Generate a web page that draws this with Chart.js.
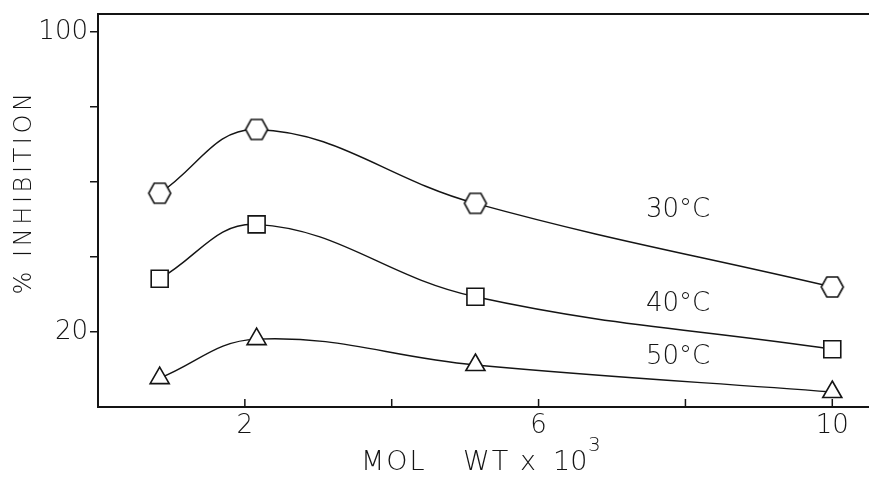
<!DOCTYPE html>
<html>
<head>
<meta charset="utf-8">
<script src="https://cdn.jsdelivr.net/npm/chart.js@4.4.1/dist/chart.umd.min.js"></script>
<style>
  html, body { margin: 0; padding: 0; background: #fff; }
  #wrap { width: 869px; height: 486px; }
</style>
</head>
<body>
<div id="wrap"><canvas id="chart"></canvas></div>
<script>
// values (x = mol wt / 1000, y = % inhibition)
const molWt = [0.84, 2.16, 5.14, 10];
const inhib30 = [57, 74, 54.3, 32];
const inhib40 = [34.2, 48.7, 29.4, 15.4];
const inhib50 = [7.7, 18.1, 11.2, 4.0];

const seriesNames = ['30°C', '40°C', '50°C'];
const nameX = [7.9, 7.9, 7.9];
const nameY = [52.5, 27.5, 13.3];

const xTicks = [2, 4, 6, 8, 10];
const xTickLabels = ['2', '', '6', '', '10'];
const yTicks = [20, 40, 60, 80, 100];
const yTickLabels = ['20', '', '', '', '100'];

const ink = '#141414';
const fontFamily = '"DejaVu Sans", sans-serif';
const fontWeight = '200';

function hexagon() {
  const c = document.createElement('canvas');
  c.width = 26; c.height = 26;
  const g = c.getContext('2d');
  g.beginPath();
  for (let i = 0; i < 6; i++) {
    const a = Math.PI / 3 * i;
    const px = 13 + 11 * Math.cos(a), py = 13 + 11.5 * Math.sin(a);
    if (i) g.lineTo(px, py); else g.moveTo(px, py);
  }
  g.closePath();
  g.fillStyle = '#fff';
  g.fill();
  g.lineWidth = 1.6;
  g.strokeStyle = ink;
  g.stroke();
  return c;
}

function toPoints(ys) {
  return molWt.map((x, i) => ({ x, y: ys[i] }));
}

function lineSet(ys, style, radius) {
  return {
    data: toPoints(ys),
    borderColor: ink,
    borderWidth: 1.4,
    tension: 0.4,
    pointStyle: style,
    pointRadius: radius,
    pointHoverRadius: radius,
    pointBackgroundColor: '#fff',
    pointBorderColor: ink,
    pointBorderWidth: 1.6
  };
}

const decorations = {
  id: 'decorations',
  afterDraw(chart) {
    const { ctx, chartArea, scales } = chart;
    const x = scales.x, y = scales.y;
    ctx.save();
    ctx.strokeStyle = ink;
    ctx.lineWidth = 2;
    // top frame line
    ctx.beginPath();
    ctx.moveTo(chartArea.left, chartArea.top);
    ctx.lineTo(chartArea.right, chartArea.top);
    ctx.stroke();
    // inward ticks on the x axis
    ctx.lineWidth = 1.5;
    xTicks.forEach(v => {
      const px = x.getPixelForValue(v);
      ctx.beginPath();
      ctx.moveTo(px, chartArea.bottom);
      ctx.lineTo(px, chartArea.bottom - 8);
      ctx.stroke();
    });

    ctx.fillStyle = ink;
    ctx.font = fontWeight + ' 26px ' + fontFamily;
    ctx.textAlign = 'center';
    ctx.textBaseline = 'middle';
    ctx.letterSpacing = '0px';
    seriesNames.forEach((name, i) => {
      ctx.fillText(name, x.getPixelForValue(nameX[i]), y.getPixelForValue(nameY[i]));
    });

    // y title
    ctx.save();
    ctx.translate(25, 192);
    ctx.rotate(-Math.PI / 2);
    ctx.font = fontWeight + ' 24px ' + fontFamily;
    ctx.letterSpacing = '3.6px';
    ctx.fillText('% INHIBITION', 0, 0);
    ctx.restore();

    // x title, word by word, with superscript exponent
    ctx.font = fontWeight + ' 27px ' + fontFamily;
    ctx.letterSpacing = '2px';
    ctx.textAlign = 'left';
    ctx.fillText('MOL', 361, 463);
    ctx.fillText('WT', 463, 463);
    ctx.letterSpacing = '0px';
    ctx.fillText('x', 520, 463);
    ctx.fillText('10', 553, 463);
    ctx.font = fontWeight + ' 20px ' + fontFamily;
    ctx.fillText('3', 588, 446);
    ctx.restore();
  }
};

new Chart(document.getElementById('chart'), {
  type: 'line',
  data: {
    datasets: [
      lineSet(inhib30, hexagon(), 12),
      lineSet(inhib40, 'rect', 12),
      lineSet(inhib50, 'triangle', 11)
    ]
  },
  options: {
    responsive: true,
    maintainAspectRatio: false,
    animation: false,
    events: [],
    layout: { autoPadding: false, padding: { top: 14, right: 0, left: 0, bottom: 0 } },
    plugins: { legend: { display: false }, tooltip: { enabled: false } },
    scales: {
      x: {
        type: 'linear',
        min: 0,
        max: 10.5,
        afterBuildTicks: s => { s.ticks = xTicks.map(v => ({ value: v })); },
        afterFit: s => { s.height = 79; s.paddingLeft = 0; s.paddingRight = 0; },
        border: { display: true, color: ink, width: 2 },
        grid: { display: false, drawTicks: false },
        ticks: {
          color: ink,
          padding: 4,
          maxRotation: 0,
          autoSkip: false,
          font: { family: fontFamily, size: 26, weight: fontWeight },
          callback: (v, i) => xTickLabels[i]
        }
      },
      y: {
        min: 0,
        max: 104.8,
        afterBuildTicks: s => { s.ticks = yTicks.map(v => ({ value: v })); },
        afterFit: s => { s.width = 98; s.paddingTop = 0; s.paddingBottom = 0; },
        border: { display: true, color: ink, width: 2 },
        grid: { drawOnChartArea: false, drawTicks: true, tickLength: 8, color: ink, lineWidth: 1.5 },
        ticks: {
          color: ink,
          padding: 2,
          autoSkip: false,
          font: { family: fontFamily, size: 26, weight: fontWeight },
          callback: (v, i) => yTickLabels[i]
        }
      }
    }
  },
  plugins: [decorations]
});
</script>
</body>
</html>
